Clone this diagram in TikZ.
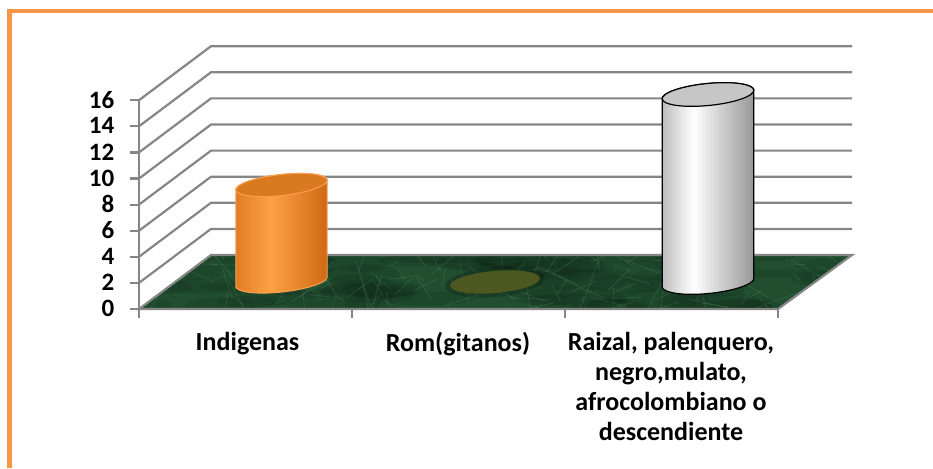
\documentclass[tikz,border=0pt]{standalone}
\usepackage{fontspec}
\setmainfont{Carlito}
\definecolor{frameor}{HTML}{F79646}
\definecolor{gridg}{HTML}{868686}
\definecolor{floorg}{HTML}{204E2F}
\definecolor{veing}{HTML}{74A985}
\definecolor{orA}{HTML}{E27C22}
\definecolor{orB}{HTML}{FDA244}
\definecolor{orC}{HTML}{CF6814}
\definecolor{ortop}{HTML}{D97A20}
\definecolor{orline}{HTML}{F8A050}
\definecolor{whA}{HTML}{BDBDBD}
\definecolor{whC}{HTML}{979797}
\definecolor{whtop}{HTML}{C6C6C6}
\definecolor{romc}{HTML}{4D5820}
\pgfdeclarehorizontalshading{orcyl}{100bp}{color(0bp)=(orA); color(25bp)=(orA); color(44bp)=(orB); color(75bp)=(orC); color(100bp)=(orC)}
\pgfdeclarehorizontalshading{whcyl}{100bp}{color(0bp)=(whA); color(25bp)=(whA); color(42bp)=(white); color(75bp)=(whC); color(100bp)=(whC)}
\begin{document}
\begin{tikzpicture}[x=1pt,y=-1pt,
  gridline/.style={draw=gridg, line width=2.2pt},
  numlab/.style={anchor=east, font=\fontsize{25}{30}\selectfont\bfseries, inner sep=0pt},
  catlab/.style={anchor=north, align=center, font=\fontsize{26}{30}\selectfont\bfseries, inner sep=0pt}]
\useasboundingbox (0,0) rectangle (933,468);
\fill[white] (0,0) rectangle (933,468);
% frame
\draw[frameor, line width=4.5pt] (9.5,468) -- (9.5,11) -- (933,11);
% floor corners
\coordinate (fl) at (139,309);
\coordinate (fr) at (778,309);
\coordinate (br) at (852,255);
\coordinate (bl) at (211,255);
% gridlines
\foreach \k in {1,...,8}{
  \draw[gridline] (139,{309-26.1*\k}) -- (211,{255-26.1*\k}) -- (852,{255-26.1*\k});
}
% floor
\fill[floorg] (fl) -- (bl) -- (br) -- (fr) -- cycle;
\begin{scope}
  \clip (fl) -- (bl) -- (br) -- (fr) -- cycle;
  \pgfmathsetseed{11}
  \foreach \i in {1,...,70}{
    \pgfmathsetmacro\xa{140+rnd*720}
    \pgfmathsetmacro\ya{252+rnd*60}
    \pgfmathsetmacro\ra{18+rnd*40}
    \pgfmathsetmacro\rb{4+rnd*8}
    \fill[black, opacity=0.08] (\xa,\ya) ellipse [x radius=\ra pt, y radius=\rb pt];
  }
  \foreach \i in {1,...,160}{
    \pgfmathsetmacro\xa{140+rnd*720}
    \pgfmathsetmacro\ya{252+rnd*60}
    \pgfmathsetmacro\an{rnd*360}
    \pgfmathsetmacro\ln{8+rnd*40}
    \draw[veing, opacity=0.25, line width=0.6pt] (\xa,\ya) -- ++(\an:\ln);
  }
\end{scope}
\draw[gridline] (fl) -- (bl) -- (br) -- (fr) -- cycle;
% axis
\draw[gridline] (139,100) -- (fl);
\foreach \k/\v in {0/0,1/2,2/4,3/6,4/8,5/10,6/12,7/14,8/16}{
  \draw[gridline] (130,{309-26.1*\k}) -- (139,{309-26.1*\k});
  \node[numlab] (n\v) at (114.5,{308.5-26.1*\k}) {\v};
}
\foreach \x in {139,352,565,778}{
  \draw[gridline] (\x,309) -- (\x,318);
}
% Rom ellipse
\fill[black, opacity=0.2, rotate around={5:(495,282)}] (495,282) ellipse [x radius=50pt, y radius=15pt];
\fill[romc, rotate around={5:(495,282)}] (495,282) ellipse [x radius=45pt, y radius=11pt];
% orange cylinder
\shade[shading=orcyl, draw=orline, line width=1pt]
  plot[domain=180:360, samples=40, variable=\t] ({281.5+46*cos(\t)*cos(6.3)-10.5*sin(\t)*sin(6.3)}, {281.5-46*cos(\t)*sin(6.3)-10.5*sin(\t)*cos(6.3)})
  -- plot[domain=0:180, samples=40, variable=\t] ({281.5+46*cos(\t)*cos(6.3)-10.5*sin(\t)*sin(6.3)}, {185-46*cos(\t)*sin(6.3)-10.5*sin(\t)*cos(6.3)})
  -- cycle;
\filldraw[fill=ortop, draw=orline, line width=1pt, rotate around={6.3:(281.5,185)}] (281.5,185) ellipse [x radius=46pt, y radius=10.5pt];
% white cylinder
\shade[shading=whcyl, draw=black, line width=1.2pt]
  plot[domain=180:360, samples=40, variable=\t] ({708+46*cos(\t)*cos(5.6)-11*sin(\t)*sin(5.6)}, {282.5-46*cos(\t)*sin(5.6)-11*sin(\t)*cos(5.6)})
  -- plot[domain=0:180, samples=40, variable=\t] ({708+46*cos(\t)*cos(5.6)-11*sin(\t)*sin(5.6)}, {94.5-46*cos(\t)*sin(5.6)-11*sin(\t)*cos(5.6)})
  -- cycle;
\filldraw[fill=whtop, draw=black, line width=1.2pt, rotate around={5.6:(708,94.5)}] (708,94.5) ellipse [x radius=46pt, y radius=11pt];
% category labels
\node[catlab] (c1) at (247.5,332) {Indigenas};
\node[catlab] (c2) at (458,332) {Rom(gitanos)};
\node[catlab] (c3) at (671,332) {Raizal, palenquero,\\negro,mulato,\\afrocolombiano o\\descendiente};
\end{tikzpicture}
\end{document}
